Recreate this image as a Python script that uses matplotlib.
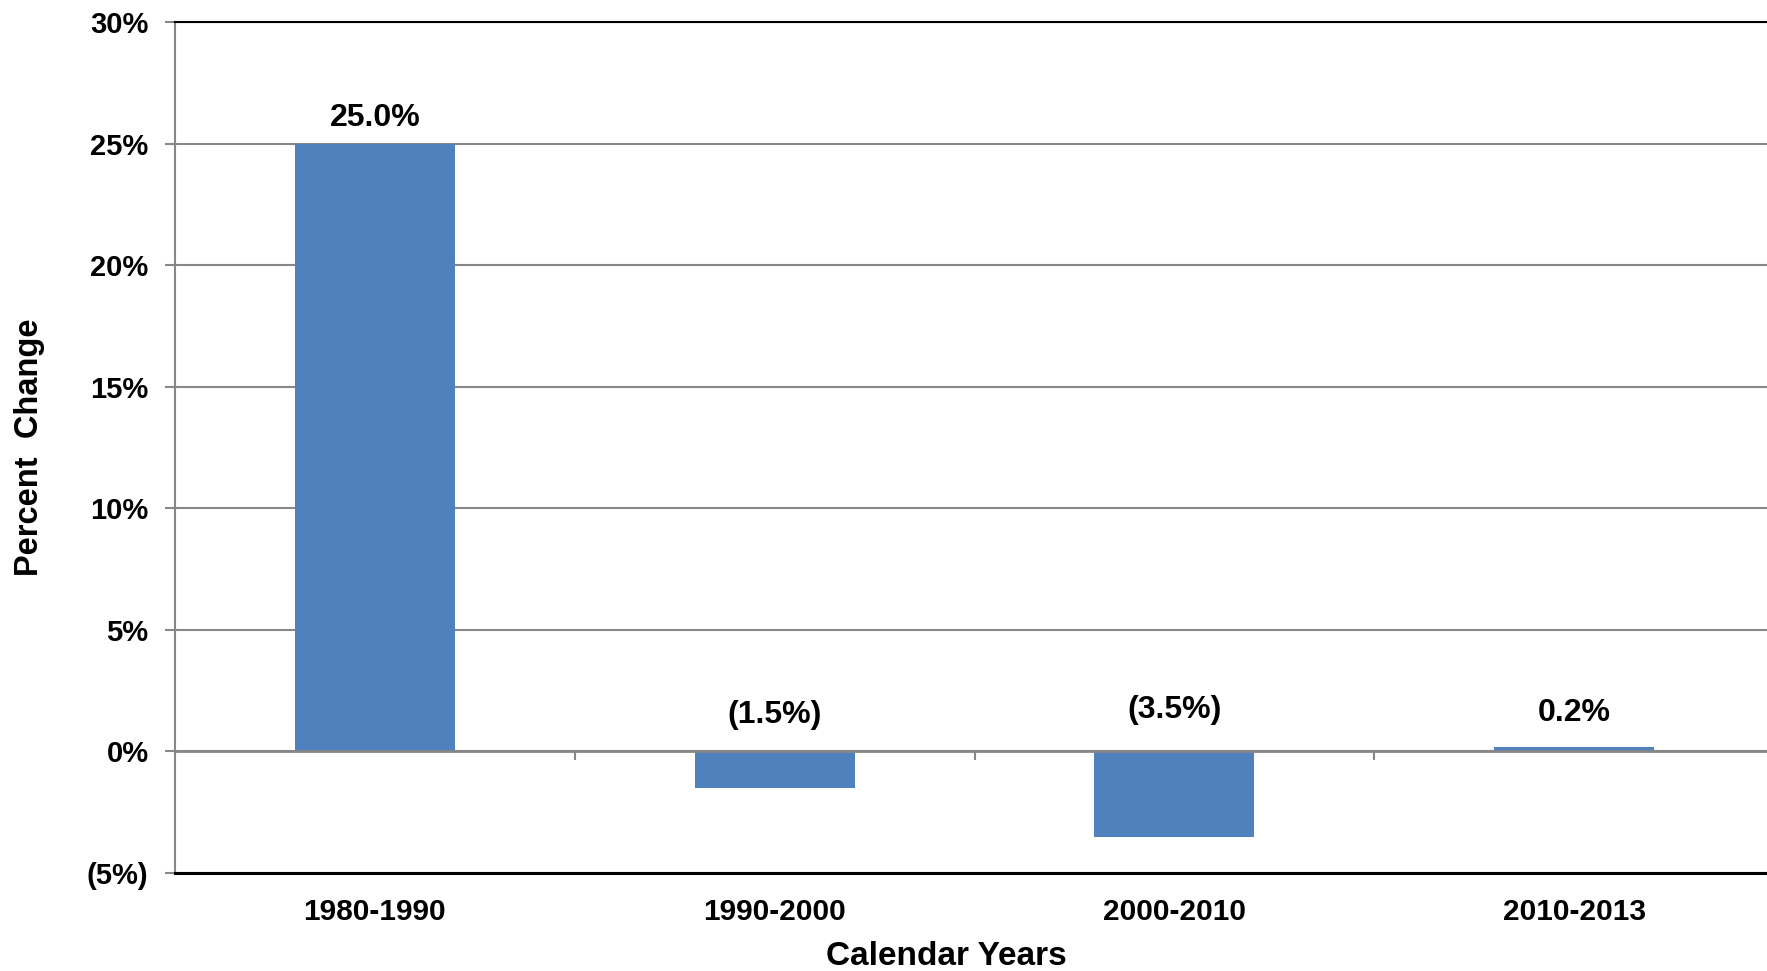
import matplotlib
matplotlib.use("Agg")
import matplotlib.pyplot as plt
from matplotlib.ticker import FuncFormatter

categories = ["1980-1990", "1990-2000", "2000-2010", "2010-2013"]
values = [25.0, -1.5, -3.5, 0.2]
y_ticks = [-5, 0, 5, 10, 15, 20, 25, 30]

BAR = "#4F81BD"
GRID = "#878787"
FONT = "Liberation Sans"

def pct(v):
    return f"({abs(v):.0f}%)" if v < 0 else f"{v:.0f}%"

def lab(v):
    return f"({abs(v):.1f}%)" if v < 0 else f"{v:.1f}%"

fig = plt.figure(figsize=(17.67, 9.71), dpi=100)
ax = fig.add_axes([175/1767, 1-873/971, (1774-175)/1767, (873-22)/971])

x = list(range(len(categories)))
ax.bar(x, values, width=0.4, color=BAR, zorder=3)

ax.set_xlim(-0.5, len(categories) - 0.5)
ax.set_ylim(-5, 30)
ax.set_yticks(y_ticks)
ax.yaxis.set_major_formatter(FuncFormatter(lambda v, p: pct(v)))
ax.yaxis.grid(True, color=GRID, linewidth=1.5, zorder=1)
ax.set_axisbelow(True)

ax.set_xticks(x)
ax.set_xticklabels(categories)
ax.tick_params(axis="x", length=0, pad=18)
ax.tick_params(axis="y", length=7, width=1.5, color=GRID, pad=12)

for lbl in ax.get_xticklabels():
    lbl.set_fontfamily(FONT)
    lbl.set_fontsize(21.5)
    lbl.set_fontweight("bold")
for lbl in ax.get_yticklabels():
    lbl.set_fontfamily(FONT)
    lbl.set_fontsize(21)
    lbl.set_fontweight("bold")

ax.spines["right"].set_visible(False)
ax.spines["left"].set_color(GRID)
ax.spines["left"].set_linewidth(1.5)
ax.spines["top"].set_color("black")
ax.spines["top"].set_linewidth(1.5)
ax.spines["bottom"].set_color("black")
ax.spines["bottom"].set_linewidth(2.2)

# zero line and category separator ticks
ax.axhline(0, color=GRID, linewidth=2, zorder=4)
ax.vlines([i + 0.5 for i in x[:-1]], -0.35, 0, color=GRID, linewidth=1.5, zorder=4)

for xi, v in zip(x, values):
    base = max(v, 0)
    if v >= 2:
        off = 18.5
    elif v >= 0:
        off = 24.5
    else:
        off = 26.5 if v > -2 else 29.5
    ax.annotate(lab(v), (xi, base), xytext=(0, off), textcoords="offset points",
                ha="center", va="center", fontsize=23, fontweight="bold",
                family=FONT, zorder=5)

fig.text(946/1767, 1-965/971, "Calendar Years", fontsize=24, fontweight="bold",
         family=FONT, ha="center", va="baseline")
ax.set_ylabel("Percent  Change", fontsize=23.5, fontweight="bold", family=FONT, labelpad=30)

fig.savefig("out.png", dpi=100)
